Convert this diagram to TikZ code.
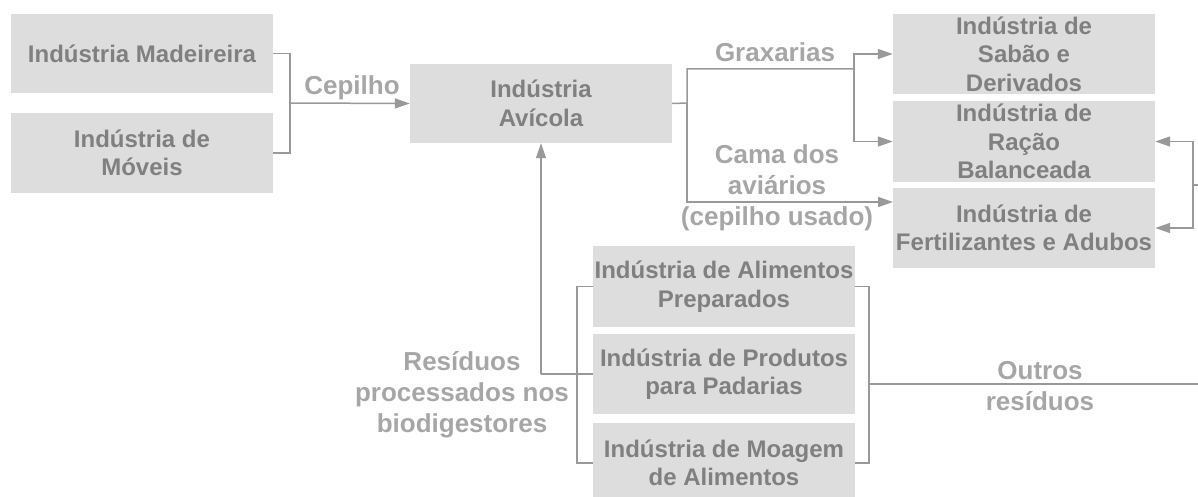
\documentclass[tikz,border=0pt]{standalone}
\usepackage{fontspec}
\setmainfont{Liberation Sans}
\usetikzlibrary{arrows.meta}
\definecolor{boxfill}{HTML}{DDDDDD}
\definecolor{boxtext}{HTML}{808080}
\definecolor{labtext}{HTML}{A6A6A6}
\definecolor{linec}{HTML}{999999}
\begin{document}
\begin{tikzpicture}[x=1pt,y=-1pt,
  box/.style={fill=boxfill,text=boxtext,font=\fontsize{24}{28.5}\selectfont\bfseries,align=center,inner sep=0pt,minimum width=262pt},
  lab/.style={text=labtext,font=\fontsize{26}{31}\selectfont\bfseries,align=center,inner sep=0pt},
  conn/.style={draw=linec,line width=1.5pt},
  arr/.style={conn,-{Triangle[length=15pt,width=10pt]}}]
\useasboundingbox (0,0) rectangle (1198,497);
% boxes
\node[box,minimum height=79pt] (mad) at (142,53.5) {Indústria Madeireira};
\node[box,minimum height=80pt] (mov) at (142,153) {Indústria de\\Móveis};
\node[box,minimum height=79pt] (avi) at (541,103.5) {Indústria\\Avícola};
\node[box,minimum height=80pt] (sab) at (1024,54) {Indústria de\\Sabão e\\Derivados};
\node[box,minimum height=81pt] (rac) at (1024,141.5) {Indústria de\\Ração\\Balanceada};
\node[box,minimum height=80pt] (fer) at (1024,228) {Indústria de\\Fertilizantes e Adubos};
\node[box,minimum height=81pt] (ali) at (724,286.5) {Indústria de Alimentos\\Preparados};
\node[box,minimum height=80pt] (pad) at (724,374) {Indústria de Produtos\\para Padarias};
\node[box,minimum height=80pt] (moa) at (724,463) {Indústria de Moagem\\de Alimentos};
% labels
\node[lab] (cep) at (352,88) {Cepilho};
\node[lab] (gra) at (775,52) {Graxarias};
\node[lab] (cam) at (777,188) {Cama dos\\aviários\\(cepilho usado)};
\node[lab] (res) at (462,395) {Resíduos\\processados nos\\biodigestores};
\node[lab] (out) at (1040,386) {Outros\\resíduos};
% connectors left
\coordinate (j1) at (290,103);
\draw[conn] (mad.east) -| (j1) |- (mov.east);
\draw[arr] (j1) -- (avi.west);
% connectors right of avicola
\coordinate (a1) at (687,103);
\coordinate (a2) at (854,69);
\coordinate (ferin) at (893,202);
\draw[conn] (avi.east) -- (a1) |- (a2);
\draw[arr] (a2) |- (sab.west);
\draw[arr] (a2) |- (rac.west);
\draw[arr] (a1) |- (ferin);
% right bracket
\coordinate (r1) at (1198,185);
\coordinate (r2) at (1193,185);
\draw[conn] (r1) -- (r2);
\draw[arr] (r2) |- (rac.east);
\draw[arr] (r2) |- (fer.east);
% bottom group
\coordinate (b1) at (541,374);
\coordinate (lb) at (577,374);
\coordinate (rb) at (869,384);
\coordinate (re) at (1198,384);
\draw[arr] (b1) -- (avi.south);
\draw[conn] (b1) -- (pad.west);
\draw[conn] (ali.west) -| (lb) |- (moa.west);
\draw[conn] (ali.east) -| (rb) |- (moa.east);
\draw[conn] (rb) -- (re);
\end{tikzpicture}
\end{document}
